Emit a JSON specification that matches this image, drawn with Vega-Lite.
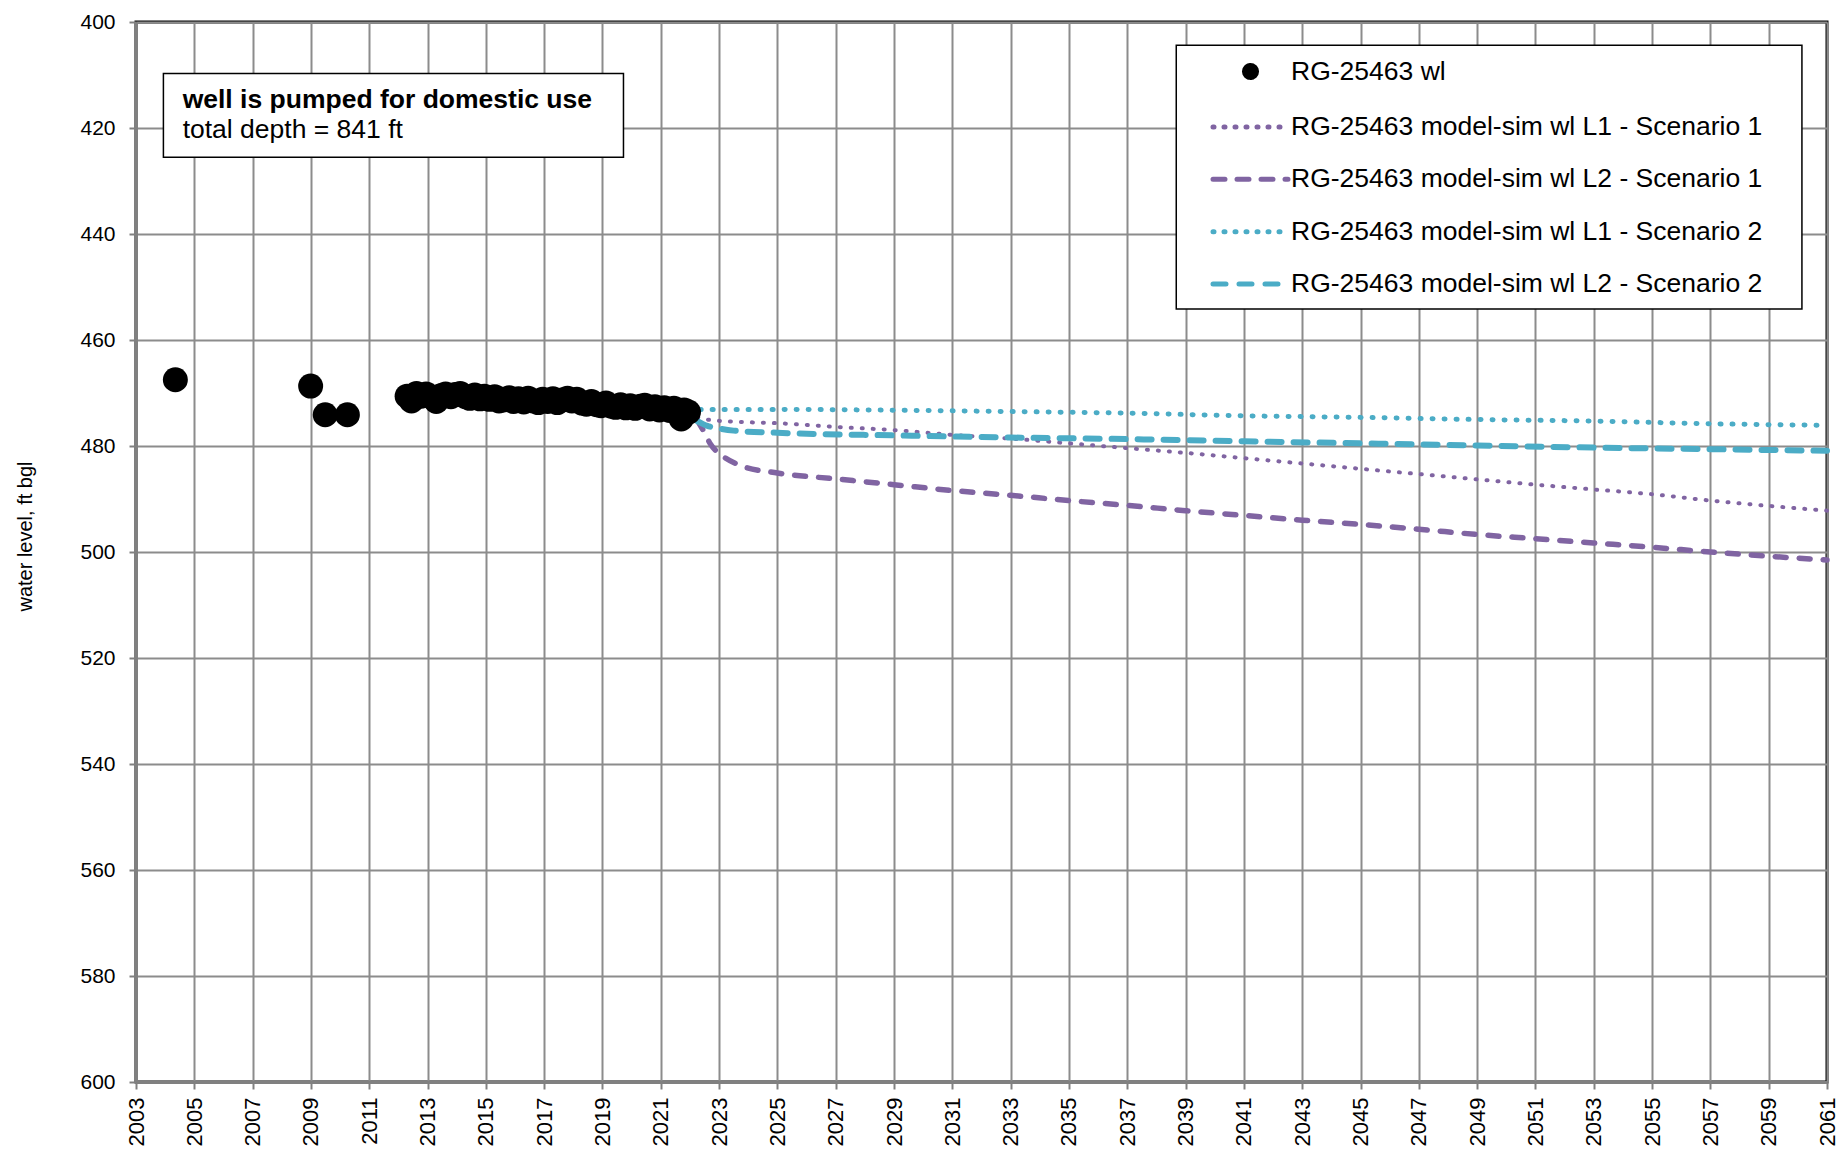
{
  "$schema": "https://vega.github.io/schema/vega-lite/v6.json",
  "width": 1691,
  "height": 1060,
  "autosize": {"type": "none"},
  "padding": {"left": 136, "top": 22, "right": 14, "bottom": 70},
  "background": "white",
  "config": {
    "font": "Liberation Sans",
    "view": {"stroke": "black", "strokeWidth": 3},
    "axis": {
      "gridColor": "#8c8c8c", "gridWidth": 2, "gridOpacity": 1,
      "domainColor": "#808080", "domainWidth": 3,
      "tickColor": "#808080", "tickWidth": 2,
      "labelColor": "black", "titleColor": "black",
      "labelFont": "Liberation Sans", "titleFont": "Liberation Sans",
      "titleFontWeight": "normal", "labelOverlap": false, "labelFlush": false, "tickSize": 7
    },
    "axisX": {"labelAngle": -90, "labelFontSize": 22, "labelPadding": 8},
    "axisY": {"labelFontSize": 21, "labelPadding": 14, "titleFontSize": 20, "titlePadding": 44, "titleY": 514}
  },
  "datasets": {
    "obs": [
      {"year": 2004.35, "wl": 467.5, "series": "RG-25463 wl"},
      {"year": 2008.99, "wl": 468.7, "series": "RG-25463 wl"},
      {"year": 2009.49, "wl": 474.1, "series": "RG-25463 wl"},
      {"year": 2010.25, "wl": 474.1, "series": "RG-25463 wl"},
      {"year": 2012.30, "wl": 470.6, "series": "RG-25463 wl"},
      {"year": 2012.45, "wl": 471.5, "series": "RG-25463 wl"},
      {"year": 2012.62, "wl": 470.1, "series": "RG-25463 wl"},
      {"year": 2012.78, "wl": 470.6, "series": "RG-25463 wl"},
      {"year": 2012.95, "wl": 470.2, "series": "RG-25463 wl"},
      {"year": 2013.12, "wl": 470.7, "series": "RG-25463 wl"},
      {"year": 2013.30, "wl": 471.6, "series": "RG-25463 wl"},
      {"year": 2013.45, "wl": 470.5, "series": "RG-25463 wl"},
      {"year": 2013.62, "wl": 470.2, "series": "RG-25463 wl"},
      {"year": 2013.80, "wl": 470.7, "series": "RG-25463 wl"},
      {"year": 2013.95, "wl": 470.3, "series": "RG-25463 wl"},
      {"year": 2014.12, "wl": 470.1, "series": "RG-25463 wl"},
      {"year": 2014.30, "wl": 470.7, "series": "RG-25463 wl"},
      {"year": 2014.45, "wl": 471.0, "series": "RG-25463 wl"},
      {"year": 2014.62, "wl": 470.4, "series": "RG-25463 wl"},
      {"year": 2014.80, "wl": 471.1, "series": "RG-25463 wl"},
      {"year": 2014.95, "wl": 470.6, "series": "RG-25463 wl"},
      {"year": 2015.12, "wl": 471.2, "series": "RG-25463 wl"},
      {"year": 2015.30, "wl": 470.7, "series": "RG-25463 wl"},
      {"year": 2015.45, "wl": 471.5, "series": "RG-25463 wl"},
      {"year": 2015.62, "wl": 471.3, "series": "RG-25463 wl"},
      {"year": 2015.80, "wl": 470.9, "series": "RG-25463 wl"},
      {"year": 2015.95, "wl": 471.6, "series": "RG-25463 wl"},
      {"year": 2016.12, "wl": 471.1, "series": "RG-25463 wl"},
      {"year": 2016.30, "wl": 471.7, "series": "RG-25463 wl"},
      {"year": 2016.45, "wl": 471.0, "series": "RG-25463 wl"},
      {"year": 2016.62, "wl": 471.5, "series": "RG-25463 wl"},
      {"year": 2016.80, "wl": 471.8, "series": "RG-25463 wl"},
      {"year": 2016.95, "wl": 471.2, "series": "RG-25463 wl"},
      {"year": 2017.12, "wl": 471.6, "series": "RG-25463 wl"},
      {"year": 2017.30, "wl": 471.1, "series": "RG-25463 wl"},
      {"year": 2017.45, "wl": 471.8, "series": "RG-25463 wl"},
      {"year": 2017.62, "wl": 471.3, "series": "RG-25463 wl"},
      {"year": 2017.80, "wl": 471.0, "series": "RG-25463 wl"},
      {"year": 2017.95, "wl": 471.5, "series": "RG-25463 wl"},
      {"year": 2018.12, "wl": 471.2, "series": "RG-25463 wl"},
      {"year": 2018.30, "wl": 471.9, "series": "RG-25463 wl"},
      {"year": 2018.45, "wl": 472.1, "series": "RG-25463 wl"},
      {"year": 2018.62, "wl": 471.6, "series": "RG-25463 wl"},
      {"year": 2018.80, "wl": 472.2, "series": "RG-25463 wl"},
      {"year": 2018.95, "wl": 472.4, "series": "RG-25463 wl"},
      {"year": 2019.12, "wl": 471.9, "series": "RG-25463 wl"},
      {"year": 2019.30, "wl": 472.5, "series": "RG-25463 wl"},
      {"year": 2019.45, "wl": 472.7, "series": "RG-25463 wl"},
      {"year": 2019.62, "wl": 472.2, "series": "RG-25463 wl"},
      {"year": 2019.80, "wl": 472.8, "series": "RG-25463 wl"},
      {"year": 2019.95, "wl": 472.4, "series": "RG-25463 wl"},
      {"year": 2020.12, "wl": 472.9, "series": "RG-25463 wl"},
      {"year": 2020.30, "wl": 472.5, "series": "RG-25463 wl"},
      {"year": 2020.45, "wl": 472.3, "series": "RG-25463 wl"},
      {"year": 2020.62, "wl": 473.0, "series": "RG-25463 wl"},
      {"year": 2020.80, "wl": 472.6, "series": "RG-25463 wl"},
      {"year": 2020.95, "wl": 473.2, "series": "RG-25463 wl"},
      {"year": 2021.12, "wl": 472.8, "series": "RG-25463 wl"},
      {"year": 2021.30, "wl": 473.3, "series": "RG-25463 wl"},
      {"year": 2021.45, "wl": 472.9, "series": "RG-25463 wl"},
      {"year": 2021.62, "wl": 473.5, "series": "RG-25463 wl"},
      {"year": 2021.70, "wl": 474.9, "series": "RG-25463 wl"},
      {"year": 2021.80, "wl": 473.2, "series": "RG-25463 wl"},
      {"year": 2021.95, "wl": 473.6, "series": "RG-25463 wl"}
    ],
    "model": [
      {"year": 2022.25, "wl": 474.6, "series": "RG-25463 model-sim wl L1 - Scenario 1"},
      {"year": 2022.7, "wl": 475.1, "series": "RG-25463 model-sim wl L1 - Scenario 1"},
      {"year": 2023.5, "wl": 475.4, "series": "RG-25463 model-sim wl L1 - Scenario 1"},
      {"year": 2025, "wl": 475.7, "series": "RG-25463 model-sim wl L1 - Scenario 1"},
      {"year": 2027, "wl": 476.4, "series": "RG-25463 model-sim wl L1 - Scenario 1"},
      {"year": 2029, "wl": 477.0, "series": "RG-25463 model-sim wl L1 - Scenario 1"},
      {"year": 2031, "wl": 477.9, "series": "RG-25463 model-sim wl L1 - Scenario 1"},
      {"year": 2033, "wl": 478.6, "series": "RG-25463 model-sim wl L1 - Scenario 1"},
      {"year": 2035, "wl": 479.5, "series": "RG-25463 model-sim wl L1 - Scenario 1"},
      {"year": 2037, "wl": 480.4, "series": "RG-25463 model-sim wl L1 - Scenario 1"},
      {"year": 2039, "wl": 481.3, "series": "RG-25463 model-sim wl L1 - Scenario 1"},
      {"year": 2041, "wl": 482.3, "series": "RG-25463 model-sim wl L1 - Scenario 1"},
      {"year": 2043, "wl": 483.3, "series": "RG-25463 model-sim wl L1 - Scenario 1"},
      {"year": 2045, "wl": 484.3, "series": "RG-25463 model-sim wl L1 - Scenario 1"},
      {"year": 2047, "wl": 485.3, "series": "RG-25463 model-sim wl L1 - Scenario 1"},
      {"year": 2049, "wl": 486.3, "series": "RG-25463 model-sim wl L1 - Scenario 1"},
      {"year": 2051, "wl": 487.3, "series": "RG-25463 model-sim wl L1 - Scenario 1"},
      {"year": 2053, "wl": 488.2, "series": "RG-25463 model-sim wl L1 - Scenario 1"},
      {"year": 2055, "wl": 489.1, "series": "RG-25463 model-sim wl L1 - Scenario 1"},
      {"year": 2057, "wl": 490.3, "series": "RG-25463 model-sim wl L1 - Scenario 1"},
      {"year": 2059, "wl": 491.3, "series": "RG-25463 model-sim wl L1 - Scenario 1"},
      {"year": 2061, "wl": 492.2, "series": "RG-25463 model-sim wl L1 - Scenario 1"},

      {"year": 2022.25, "wl": 475.1, "series": "RG-25463 model-sim wl L2 - Scenario 1"},
      {"year": 2022.5, "wl": 477.5, "series": "RG-25463 model-sim wl L2 - Scenario 1"},
      {"year": 2022.7, "wl": 479.6, "series": "RG-25463 model-sim wl L2 - Scenario 1"},
      {"year": 2023.1, "wl": 481.8, "series": "RG-25463 model-sim wl L2 - Scenario 1"},
      {"year": 2023.75, "wl": 483.7, "series": "RG-25463 model-sim wl L2 - Scenario 1"},
      {"year": 2025, "wl": 485.1, "series": "RG-25463 model-sim wl L2 - Scenario 1"},
      {"year": 2027, "wl": 486.2, "series": "RG-25463 model-sim wl L2 - Scenario 1"},
      {"year": 2029, "wl": 487.3, "series": "RG-25463 model-sim wl L2 - Scenario 1"},
      {"year": 2031, "wl": 488.4, "series": "RG-25463 model-sim wl L2 - Scenario 1"},
      {"year": 2033, "wl": 489.3, "series": "RG-25463 model-sim wl L2 - Scenario 1"},
      {"year": 2035, "wl": 490.3, "series": "RG-25463 model-sim wl L2 - Scenario 1"},
      {"year": 2037, "wl": 491.2, "series": "RG-25463 model-sim wl L2 - Scenario 1"},
      {"year": 2039, "wl": 492.2, "series": "RG-25463 model-sim wl L2 - Scenario 1"},
      {"year": 2041, "wl": 493.1, "series": "RG-25463 model-sim wl L2 - Scenario 1"},
      {"year": 2043, "wl": 494.0, "series": "RG-25463 model-sim wl L2 - Scenario 1"},
      {"year": 2045, "wl": 494.8, "series": "RG-25463 model-sim wl L2 - Scenario 1"},
      {"year": 2047, "wl": 495.7, "series": "RG-25463 model-sim wl L2 - Scenario 1"},
      {"year": 2049, "wl": 496.7, "series": "RG-25463 model-sim wl L2 - Scenario 1"},
      {"year": 2051, "wl": 497.5, "series": "RG-25463 model-sim wl L2 - Scenario 1"},
      {"year": 2053, "wl": 498.3, "series": "RG-25463 model-sim wl L2 - Scenario 1"},
      {"year": 2055, "wl": 499.1, "series": "RG-25463 model-sim wl L2 - Scenario 1"},
      {"year": 2057, "wl": 500.0, "series": "RG-25463 model-sim wl L2 - Scenario 1"},
      {"year": 2059, "wl": 500.8, "series": "RG-25463 model-sim wl L2 - Scenario 1"},
      {"year": 2061, "wl": 501.5, "series": "RG-25463 model-sim wl L2 - Scenario 1"},

      {"year": 2022.35, "wl": 473.1, "series": "RG-25463 model-sim wl L1 - Scenario 2"},
      {"year": 2025, "wl": 473.1, "series": "RG-25463 model-sim wl L1 - Scenario 2"},
      {"year": 2029, "wl": 473.25, "series": "RG-25463 model-sim wl L1 - Scenario 2"},
      {"year": 2033, "wl": 473.5, "series": "RG-25463 model-sim wl L1 - Scenario 2"},
      {"year": 2037, "wl": 473.8, "series": "RG-25463 model-sim wl L1 - Scenario 2"},
      {"year": 2041, "wl": 474.3, "series": "RG-25463 model-sim wl L1 - Scenario 2"},
      {"year": 2045, "wl": 474.6, "series": "RG-25463 model-sim wl L1 - Scenario 2"},
      {"year": 2049, "wl": 475.0, "series": "RG-25463 model-sim wl L1 - Scenario 2"},
      {"year": 2053, "wl": 475.3, "series": "RG-25463 model-sim wl L1 - Scenario 2"},
      {"year": 2057, "wl": 475.8, "series": "RG-25463 model-sim wl L1 - Scenario 2"},
      {"year": 2061, "wl": 476.1, "series": "RG-25463 model-sim wl L1 - Scenario 2"},

      {"year": 2022.25, "wl": 475.3, "series": "RG-25463 model-sim wl L2 - Scenario 2"},
      {"year": 2022.6, "wl": 476.2, "series": "RG-25463 model-sim wl L2 - Scenario 2"},
      {"year": 2023, "wl": 476.7, "series": "RG-25463 model-sim wl L2 - Scenario 2"},
      {"year": 2023.5, "wl": 477.1, "series": "RG-25463 model-sim wl L2 - Scenario 2"},
      {"year": 2025, "wl": 477.5, "series": "RG-25463 model-sim wl L2 - Scenario 2"},
      {"year": 2029, "wl": 478.0, "series": "RG-25463 model-sim wl L2 - Scenario 2"},
      {"year": 2033, "wl": 478.4, "series": "RG-25463 model-sim wl L2 - Scenario 2"},
      {"year": 2037, "wl": 478.7, "series": "RG-25463 model-sim wl L2 - Scenario 2"},
      {"year": 2041, "wl": 479.1, "series": "RG-25463 model-sim wl L2 - Scenario 2"},
      {"year": 2045, "wl": 479.5, "series": "RG-25463 model-sim wl L2 - Scenario 2"},
      {"year": 2049, "wl": 479.9, "series": "RG-25463 model-sim wl L2 - Scenario 2"},
      {"year": 2053, "wl": 480.3, "series": "RG-25463 model-sim wl L2 - Scenario 2"},
      {"year": 2057, "wl": 480.6, "series": "RG-25463 model-sim wl L2 - Scenario 2"},
      {"year": 2061, "wl": 480.9, "series": "RG-25463 model-sim wl L2 - Scenario 2"}
    ],
    "note": [{"line1": "well is pumped for domestic use", "line2": "total depth = 841 ft"}]
  },
  "layer": [
    {
      "encoding": {
        "x": {
          "field": "year", "type": "quantitative",
          "scale": {"domain": [2003, 2061], "nice": false, "zero": false},
          "axis": {
            "values": [2003, 2005, 2007, 2009, 2011, 2013, 2015, 2017, 2019, 2021, 2023, 2025, 2027, 2029, 2031, 2033, 2035, 2037, 2039, 2041, 2043, 2045, 2047, 2049, 2051, 2053, 2055, 2057, 2059, 2061],
            "format": "d", "title": null
          }
        },
        "y": {
          "field": "wl", "type": "quantitative",
          "scale": {"domain": [400, 600], "reverse": true, "nice": false, "zero": false},
          "axis": {
            "values": [400, 420, 440, 460, 480, 500, 520, 540, 560, 580, 600],
            "title": "water level, ft bgl"
          }
        },
        "color": {
          "field": "series", "type": "nominal",
          "scale": {
            "domain": ["RG-25463 wl", "RG-25463 model-sim wl L1 - Scenario 1", "RG-25463 model-sim wl L2 - Scenario 1", "RG-25463 model-sim wl L1 - Scenario 2", "RG-25463 model-sim wl L2 - Scenario 2"],
            "range": ["#000000", "#8064A2", "#8064A2", "#4BACC6", "#4BACC6"]
          },
          "legend": {
            "orient": "none", "legendX": 1040, "legendY": 22, "title": null, "columns": 1,
            "padding": 10,
            "labelFont": "Liberation Sans", "labelFontSize": 26.5, "labelColor": "black", "labelLimit": 0,
            "symbolSize": 900, "symbolStrokeWidth": 5,
            "rowPadding": 21.4, "symbolOffset": 47, "labelOffset": 23,
            "encode": {
              "symbols": {
                "update": {
                  "shape": {"signal": "datum.value === 'RG-25463 wl' ? 'M 0.4 0 L 0.37 0.153 L 0.283 0.283 L 0.153 0.37 L 0 0.4 L -0.153 0.37 L -0.283 0.283 L -0.37 0.153 L -0.4 0 L -0.37 -0.153 L -0.283 -0.283 L -0.153 -0.37 L 0 -0.4 L 0.153 -0.37 L 0.283 -0.283 L 0.37 -0.153 Z' : 'M -2.5 0 L 2.5 0'"},
                  "fill": {"signal": "datum.value === 'RG-25463 wl' ? '#000000' : 'transparent'"},
                  "stroke": {"signal": "datum.value === 'RG-25463 wl' ? '#000000' : (indexof(datum.value, 'Scenario 1') >= 0 ? '#8064A2' : '#4BACC6')"},
                  "strokeDash": {"signal": "datum.value === 'RG-25463 wl' ? [1, 0] : indexof(datum.value, 'L1') >= 0 ? [1, 10] : (indexof(datum.value, 'Scenario 1') >= 0 ? [12, 12] : [13, 13])"},
                  "strokeCap": {"value": "round"},
                  "opacity": {"value": 1}
                }
              }
            }
          }
        }
      },
      "layer": [
        {
          "data": {"name": "model"},
          "transform": [{"filter": "datum.series === 'RG-25463 model-sim wl L1 - Scenario 1'"}],
          "mark": {"type": "line", "strokeWidth": 4, "strokeDash": [1, 10], "strokeCap": "round", "interpolate": "monotone"}
        },
        {
          "data": {"name": "model"},
          "transform": [{"filter": "datum.series === 'RG-25463 model-sim wl L2 - Scenario 1'"}],
          "mark": {"type": "line", "strokeWidth": 5.5, "strokeDash": [11, 13], "strokeCap": "round", "interpolate": "monotone"}
        },
        {
          "data": {"name": "model"},
          "transform": [{"filter": "datum.series === 'RG-25463 model-sim wl L1 - Scenario 2'"}],
          "mark": {"type": "line", "strokeWidth": 5, "strokeDash": [1, 11], "strokeCap": "round", "interpolate": "monotone"}
        },
        {
          "data": {"name": "model"},
          "transform": [{"filter": "datum.series === 'RG-25463 model-sim wl L2 - Scenario 2'"}],
          "mark": {"type": "line", "strokeWidth": 6, "strokeDash": [14, 12], "strokeCap": "round", "interpolate": "monotone"}
        },
        {
          "data": {"name": "obs"},
          "mark": {"type": "point", "shape": "circle", "filled": true, "size": 625, "opacity": 1}
        }
      ]
    },
    {
      "data": {"name": "note"},
      "mark": {"type": "rect", "fill": "white", "stroke": "black", "strokeWidth": 1.5},
      "encoding": {
        "x": {"datum": 2003.94, "type": "quantitative", "axis": {"values": [2003, 2005, 2007, 2009, 2011, 2013, 2015, 2017, 2019, 2021, 2023, 2025, 2027, 2029, 2031, 2033, 2035, 2037, 2039, 2041, 2043, 2045, 2047, 2049, 2051, 2053, 2055, 2057, 2059, 2061], "format": "d", "title": null}},
        "x2": {"datum": 2019.72},
        "y": {"datum": 409.7, "type": "quantitative", "axis": {"values": [400, 420, 440, 460, 480, 500, 520, 540, 560, 580, 600], "title": "water level, ft bgl"}},
        "y2": {"datum": 425.5}
      }
    },
    {
      "data": {"name": "note"},
      "mark": {"type": "rect", "fill": "white", "stroke": "black", "strokeWidth": 1.5},
      "encoding": {
        "x": {"datum": 2038.68, "type": "quantitative", "axis": {"values": [2003, 2005, 2007, 2009, 2011, 2013, 2015, 2017, 2019, 2021, 2023, 2025, 2027, 2029, 2031, 2033, 2035, 2037, 2039, 2041, 2043, 2045, 2047, 2049, 2051, 2053, 2055, 2057, 2059, 2061], "format": "d", "title": null}},
        "x2": {"datum": 2060.14},
        "y": {"datum": 404.4, "type": "quantitative", "axis": {"values": [400, 420, 440, 460, 480, 500, 520, 540, 560, 580, 600], "title": "water level, ft bgl"}},
        "y2": {"datum": 454.15}
      }
    },
    {
      "data": {"name": "note"},
      "mark": {"type": "text", "align": "left", "baseline": "alphabetic", "fontSize": 26.5, "fontWeight": "bold", "color": "black", "font": "Liberation Sans"},
      "encoding": {
        "x": {"datum": 2004.6, "type": "quantitative", "axis": {"values": [2003, 2005, 2007, 2009, 2011, 2013, 2015, 2017, 2019, 2021, 2023, 2025, 2027, 2029, 2031, 2033, 2035, 2037, 2039, 2041, 2043, 2045, 2047, 2049, 2051, 2053, 2055, 2057, 2059, 2061], "format": "d", "title": null}},
        "y": {"datum": 416.3, "type": "quantitative", "axis": {"values": [400, 420, 440, 460, 480, 500, 520, 540, 560, 580, 600], "title": "water level, ft bgl"}},
        "text": {"field": "line1"}
      }
    },
    {
      "data": {"name": "note"},
      "mark": {"type": "text", "align": "left", "baseline": "alphabetic", "fontSize": 26.5, "color": "black", "font": "Liberation Sans"},
      "encoding": {
        "x": {"datum": 2004.6, "type": "quantitative", "axis": {"values": [2003, 2005, 2007, 2009, 2011, 2013, 2015, 2017, 2019, 2021, 2023, 2025, 2027, 2029, 2031, 2033, 2035, 2037, 2039, 2041, 2043, 2045, 2047, 2049, 2051, 2053, 2055, 2057, 2059, 2061], "format": "d", "title": null}},
        "y": {"datum": 421.8, "type": "quantitative", "axis": {"values": [400, 420, 440, 460, 480, 500, 520, 540, 560, 580, 600], "title": "water level, ft bgl"}},
        "text": {"field": "line2"}
      }
    }
  ]
}
